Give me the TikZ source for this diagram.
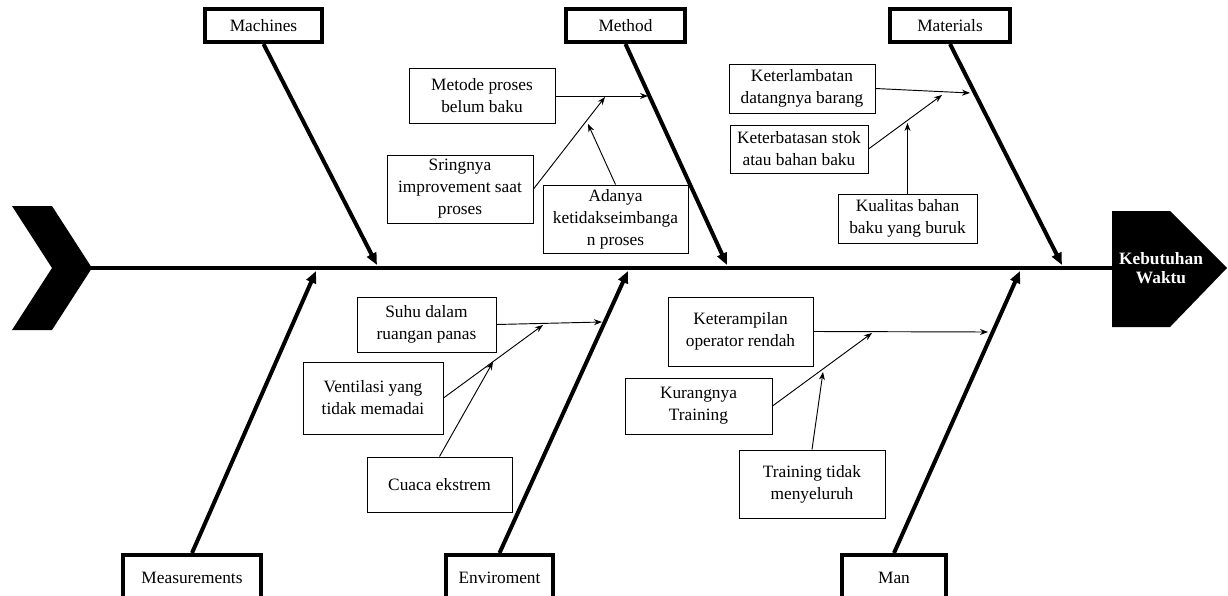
\documentclass[tikz,border=0pt]{standalone}
\usepackage{fontspec}
\setmainfont{Liberation Serif}
\usepackage{tikz}
\usetikzlibrary{arrows.meta}

\begin{document}
\begin{tikzpicture}[x=0.75pt,y=-0.75pt]
\tikzstyle{every node}+=[inner sep=0pt, font=\fontsize{13}{16.5}\selectfont]
\tikzstyle{cause}=[draw=black, line width=0.75pt, align=center]
\tikzstyle{catbox}=[draw=black, line width=3pt, fill=white]
\tikzstyle{bone}=[line width=3pt, -{Triangle[length=9pt,width=7.5pt]}]
\tikzstyle{link}=[line width=0.7pt, -{Stealth[length=6pt,width=4.5pt]}]
\useasboundingbox (0,0) rectangle (1228,596);
% tail and head
\fill [black] (12,206) -- (52,206) -- (92,268) -- (52,330) -- (12,330) -- (52,268) -- cycle;
\coordinate (tail) at (90,268);
\fill [black] (1112,211) -- (1170,211) -- (1227,268) -- (1170,327) -- (1112,327) -- cycle;
\coordinate (headL) at (1113,268);
\node [text=white, align=center, font=\fontsize{13}{14.5}\selectfont\bfseries] (head) at (1161,268) {Kebutuhan\\Waktu};
\draw [line width=3.5pt] (tail) -- (headL);
% categories
\node [catbox, minimum width=87.75pt, minimum height=24.75pt] (machines) at (263.5,25.5) {Machines};
\node [catbox, minimum width=89.25pt, minimum height=24.75pt] (method) at (625.5,25.5) {Method};
\node [catbox, minimum width=90pt, minimum height=24.75pt] (materials) at (950,25.5) {Materials};
\node [catbox, minimum width=103.5pt, minimum height=34.5pt] (measure) at (192,578) {Measurements};
\node [catbox, minimum width=80.25pt, minimum height=34.5pt] (enviro) at (499.5,578) {Enviroment};
\node [catbox, minimum width=78pt, minimum height=34.5pt] (man) at (894,578) {Man};
\coordinate (machinesE) at (377,265);
\coordinate (methodE) at (727,265);
\coordinate (materialsE) at (1062,265);
\coordinate (measureE) at (316,271);
\coordinate (enviroE) at (628,271);
\coordinate (manE) at (1020,271);
\draw [bone] (machines.south) -- (machinesE);
\draw [bone] (method.south) -- (methodE);
\draw [bone] (materials.south) -- (materialsE);
\draw [bone] (measure.north) -- (measureE);
\draw [bone] (enviro.north) -- (enviroE);
\draw [bone] (man.north) -- (manE);
% method
\node [cause, minimum width=109.5pt, minimum height=41.25pt] (metode) at (482,95.5) {Metode proses\\belum baku};
\node [cause, minimum width=109.5pt, minimum height=51pt] (sringnya) at (460,189) {Sringnya\\improvement saat\\proses};
\node [cause, minimum width=108.75pt, minimum height=51pt] (adanya) at (615.5,219) {Adanya\\ketidakseimbanga\\n proses};
\coordinate (m1) at (648,96);
\coordinate (m2) at (605,97);
\coordinate (m3) at (588,124);
\draw [link] (metode.east |- m1) -- (m1);
\draw [link] (sringnya.east) -- (m2);
\draw [link] (adanya.north) -- (m3);
% materials
\node [cause, minimum width=109.5pt, minimum height=36.75pt] (terlambat) at (802,88.5) {Keterlambatan\\datangnya barang};
\node [cause, minimum width=103.5pt, minimum height=36pt] (terbatas) at (799,149) {Keterbatasan stok\\atau bahan baku};
\node [cause, minimum width=104.25pt, minimum height=36.75pt] (kualitas) at (907.5,218.5) {Kualitas bahan\\baku yang buruk};
\coordinate (t1) at (970,93);
\coordinate (t2) at (942,95);
\coordinate (t3) at (907.5,123);
\draw [link] (terlambat.east) -- (t1);
\draw [link] (terbatas.east) -- (t2);
\draw [link] (kualitas.north) -- (t3);
% enviroment
\node [cause, minimum width=104.25pt, minimum height=41.25pt] (suhu) at (426.5,324.5) {Suhu dalam\\ruangan panas};
\node [cause, minimum width=105pt, minimum height=54pt] (ventilasi) at (373,398) {Ventilasi yang\\tidak memadai};
\node [cause, minimum width=108.75pt, minimum height=41.25pt] (cuaca) at (439.5,484.5) {Cuaca ekstrem};
\coordinate (e1) at (602,322);
\coordinate (e2) at (543,325);
\coordinate (e3) at (493,362);
\draw [link] (suhu.east) -- (e1);
\draw [link] (ventilasi.east) -- (e2);
\draw [link] (cuaca.north) -- (e3);
% man
\node [cause, minimum width=108.75pt, minimum height=51.75pt] (terampil) at (740.5,331.5) {Keterampilan\\operator rendah};
\node [cause, minimum width=110.25pt, minimum height=42pt] (kurang) at (698.5,406) {Kurangnya\\Training};
\node [cause, minimum width=109.5pt, minimum height=51pt] (training) at (812,484) {Training tidak\\menyeluruh};
\coordinate (n1) at (988,332);
\coordinate (n2) at (872,333);
\coordinate (n3) at (823,372);
\draw [link] (terampil.east) -- (n1);
\draw [link] (kurang.east) -- (n2);
\draw [link] (training.north) -- (n3);
\end{tikzpicture}
\end{document}
